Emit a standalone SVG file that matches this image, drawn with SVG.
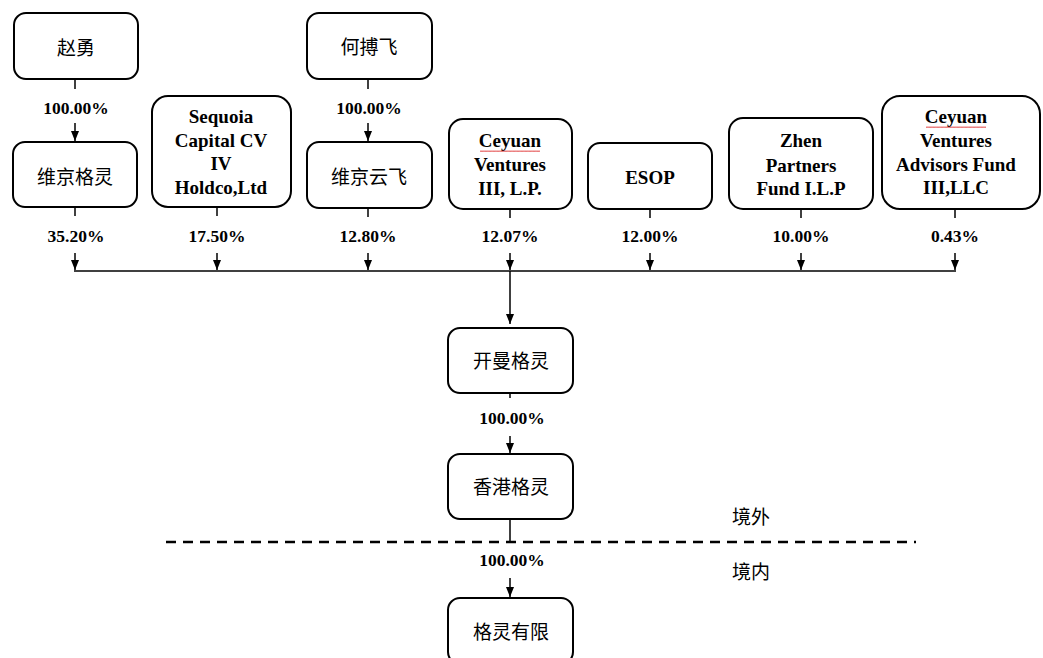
<svg xmlns="http://www.w3.org/2000/svg" width="1043" height="658" viewBox="0 0 1043 658">
<defs>
<marker id="arr" markerUnits="userSpaceOnUse" markerWidth="10" markerHeight="10" viewBox="0 0 10 10" refX="10" refY="5" orient="auto">
<path d="M0,1 L10,5 L0,9 Z" fill="#000"/>
</marker>
<pattern id="wave" width="4" height="3" patternUnits="userSpaceOnUse">
<path d="M0,2 L1,0.5 L2,2 L3,0.5 L4,2" fill="none" stroke="#e03030" stroke-width="0.7"/>
</pattern>
</defs>
<style>
.box{fill:#fff;stroke:#000;stroke-width:2}
.cn{font-family:"Liberation Serif","Noto Sans CJK SC",serif;font-size:19px;fill:#000;text-anchor:middle}
.en{font-family:"Liberation Serif","Noto Sans CJK SC",serif;font-size:19px;font-weight:bold;fill:#000;text-anchor:middle}
.pct{font-family:"Liberation Serif",serif;font-size:17.5px;font-weight:bold;fill:#000;text-anchor:middle}
.ln{stroke:#000;stroke-width:1.5;fill:none}
.ar{stroke:#000;stroke-width:1.5;fill:none;marker-end:url(#arr)}
.dash{stroke:#000;stroke-width:2.5;stroke-dasharray:10 7;fill:none}
</style>
<rect width="1043" height="658" fill="#fff"/>

<g id="n-zhaoyong"><rect class="box" x="14" y="13" width="124" height="66" rx="12"/><text class="cn" x="76" y="55">赵勇</text></g>
<g id="n-hebofei"><rect class="box" x="307" y="13" width="125" height="66" rx="12"/><text class="cn" x="369" y="54">何搏飞</text></g>
<g id="n-weijinggeling"><rect class="box" x="13" y="142" width="124" height="65" rx="12"/><text class="cn" x="75" y="184">维京格灵</text></g>
<g id="n-sequoia"><rect class="box" x="152" y="96" width="139" height="111" rx="16"/>
<text class="en" x="221" y="123">Sequoia</text><text class="en" x="221" y="147">Capital CV</text><text class="en" x="221" y="170">IV</text><text class="en" x="221" y="194">Holdco,Ltd</text></g>
<g id="n-weijingyunfei"><rect class="box" x="307" y="142" width="125" height="66" rx="12"/><text class="cn" x="369" y="184">维京云飞</text></g>
<g id="n-ceyuan3"><rect class="box" x="449" y="119" width="123" height="90" rx="14"/>
<text class="en" x="510" y="147">Ceyuan</text><rect x="480" y="149" width="60" height="3" fill="url(#wave)"/><text class="en" x="510" y="171">Ventures</text><text class="en" x="510" y="195">III, L.P.</text></g>
<g id="n-esop"><rect class="box" x="588" y="143" width="124" height="66" rx="12"/><text class="en" x="650" y="184">ESOP</text></g>
<g id="n-zhen"><rect class="box" x="729" y="118" width="144" height="91" rx="14"/>
<text class="en" x="801" y="147">Zhen</text><text class="en" x="801" y="172">Partners</text><text class="en" x="801" y="195">Fund I.L.P</text></g>
<g id="n-ceyuanadv"><rect class="box" x="882" y="96" width="158" height="113" rx="18"/>
<text class="en" x="956" y="123">Ceyuan</text><rect x="926" y="125" width="60" height="3" fill="url(#wave)"/><text class="en" x="956" y="147">Ventures</text><text class="en" x="956" y="171">Advisors Fund</text><text class="en" x="956" y="194">III,LLC</text></g>
<g id="n-kaiman"><rect class="box" x="448" y="328" width="125" height="65" rx="12"/><text class="cn" x="511" y="368">开曼格灵</text></g>
<g id="n-hk"><rect class="box" x="448" y="454" width="125" height="65" rx="12"/><text class="cn" x="511" y="494">香港格灵</text></g>
<g id="n-geling"><rect class="box" x="448" y="598" width="125" height="66" rx="12"/><text class="cn" x="511" y="639">格灵有限</text></g>

<g id="connectors">
<line class="ln" x1="75" y1="79" x2="75" y2="89"/><line class="ar" x1="75" y1="123" x2="75" y2="141"/>
<line class="ln" x1="368" y1="79" x2="368" y2="89"/><line class="ar" x1="368" y1="123" x2="368" y2="141"/>
<line class="ln" x1="75" y1="207" x2="75" y2="216"/><line class="ar" x1="75" y1="253" x2="75" y2="270"/>
<line class="ln" x1="217" y1="207" x2="217" y2="216"/><line class="ar" x1="217" y1="253" x2="217" y2="270"/>
<line class="ln" x1="368" y1="208" x2="368" y2="217"/><line class="ar" x1="368" y1="253" x2="368" y2="270"/>
<line class="ln" x1="510" y1="209" x2="510" y2="218"/><line class="ar" x1="510" y1="253" x2="510" y2="270"/>
<line class="ln" x1="650" y1="209" x2="650" y2="218"/><line class="ar" x1="650" y1="253" x2="650" y2="270"/>
<line class="ln" x1="801" y1="209" x2="801" y2="218"/><line class="ar" x1="801" y1="253" x2="801" y2="270"/>
<line class="ln" x1="955" y1="209" x2="955" y2="218"/><line class="ar" x1="955" y1="253" x2="955" y2="270"/>
<line class="ln" x1="74" y1="271" x2="956" y2="271"/>
<line class="ar" x1="510" y1="271" x2="510" y2="324"/>
<line class="ln" x1="510" y1="393" x2="510" y2="398"/><line class="ar" x1="510" y1="436" x2="510" y2="453"/>
<line class="ln" x1="510" y1="519" x2="510" y2="542"/>
<line class="ar" x1="510" y1="578" x2="510" y2="597"/>
<line class="dash" x1="166" y1="542" x2="916" y2="542"/>
</g>

<g id="labels">
<text class="pct" x="76" y="114">100.00%</text>
<text class="pct" x="369" y="114">100.00%</text>
<text class="pct" x="76" y="242">35.20%</text>
<text class="pct" x="217" y="242">17.50%</text>
<text class="pct" x="368" y="242">12.80%</text>
<text class="pct" x="510" y="242">12.07%</text>
<text class="pct" x="650" y="242">12.00%</text>
<text class="pct" x="801" y="242">10.00%</text>
<text class="pct" x="955" y="242">0.43%</text>
<text class="pct" x="512" y="424">100.00%</text>
<text class="pct" x="512" y="566">100.00%</text>
<text class="cn" x="751" y="524">境外</text>
<text class="cn" x="751" y="579">境内</text>
</g>
</svg>
